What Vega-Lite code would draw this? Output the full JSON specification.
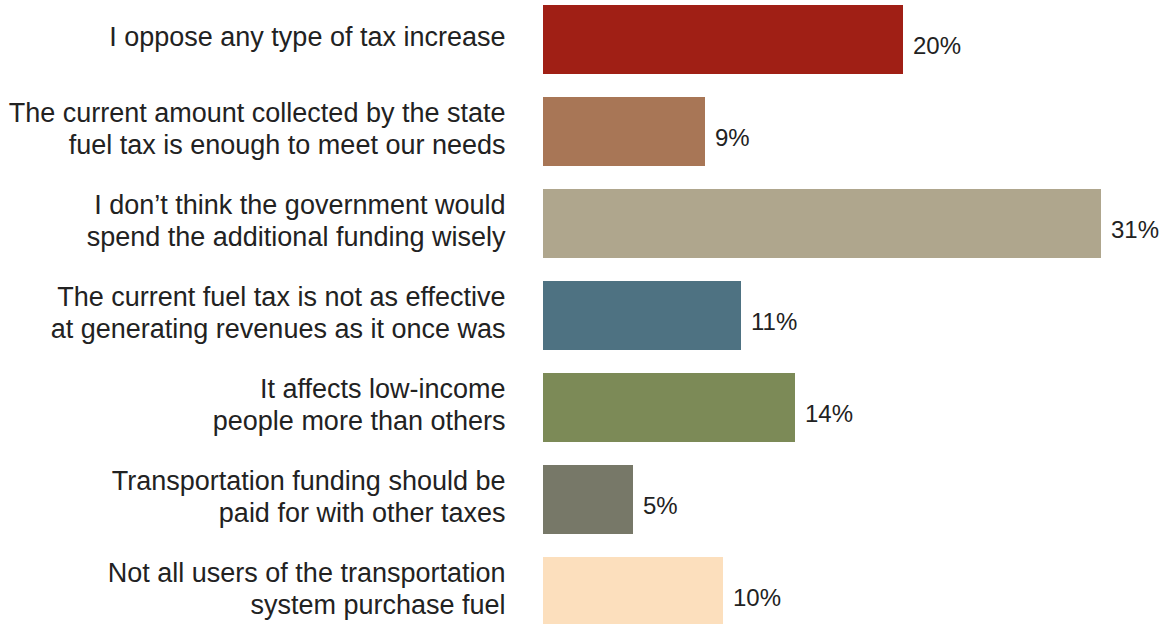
{
  "$schema": "https://vega.github.io/schema/vega-lite/v6.json",
  "width": 612,
  "height": 621,
  "autosize": "none",
  "padding": {"left": 543, "top": 5, "right": 11, "bottom": 0},
  "background": "white",
  "config": {"view": {"stroke": null}, "font": "Liberation Sans"},
  "data": {
    "values": [
      {"reason": "I oppose any type of tax increase", "share": 0.20},
      {"reason": "The current amount collected by the state|fuel tax is enough to meet our needs", "share": 0.09},
      {"reason": "I don’t think the government would|spend the additional funding wisely", "share": 0.31},
      {"reason": "The current fuel tax is not as effective|at generating revenues as it once was", "share": 0.11},
      {"reason": "It affects low-income|people more than others", "share": 0.14},
      {"reason": "Transportation funding should be|paid for with other taxes", "share": 0.05},
      {"reason": "Not all users of the transportation|system purchase fuel", "share": 0.10}
    ]
  },
  "encoding": {
    "y": {
      "field": "reason",
      "type": "nominal",
      "sort": null,
      "scale": {"paddingInner": 0.25, "paddingOuter": 0},
      "axis": {
        "title": null,
        "domain": false,
        "ticks": false,
        "labelPadding": 38,
        "labelFontSize": 27,
        "labelColor": "#222222",
        "labelFont": "Liberation Sans",
        "labelLimit": 0,
        "labelLineHeight": 32,
        "labelOffset": {"condition": {"test": "indexof(datum.label, '|') >= 0", "value": -18}, "value": -2},
        "labelExpr": "split(datum.label, '|')"
      }
    },
    "x": {
      "field": "share",
      "type": "quantitative",
      "scale": {"domain": [0, 0.34]},
      "axis": null
    }
  },
  "layer": [
    {
      "mark": {"type": "bar"},
      "encoding": {
        "color": {
          "field": "reason",
          "type": "nominal",
          "legend": null,
          "scale": {
            "domain": [
              "I oppose any type of tax increase",
              "The current amount collected by the state|fuel tax is enough to meet our needs",
              "I don’t think the government would|spend the additional funding wisely",
              "The current fuel tax is not as effective|at generating revenues as it once was",
              "It affects low-income|people more than others",
              "Transportation funding should be|paid for with other taxes",
              "Not all users of the transportation|system purchase fuel"
            ],
            "range": ["#A01F15", "#A87656", "#AFA68D", "#4E7282", "#7C8A57", "#777868", "#FCDFBD"]
          }
        }
      }
    },
    {
      "mark": {"type": "text", "align": "left", "baseline": "middle", "dx": 10, "dy": 7, "fontSize": 24, "color": "#222222", "font": "Liberation Sans"},
      "encoding": {
        "text": {"field": "share", "type": "quantitative", "format": ".0%"}
      }
    }
  ]
}
